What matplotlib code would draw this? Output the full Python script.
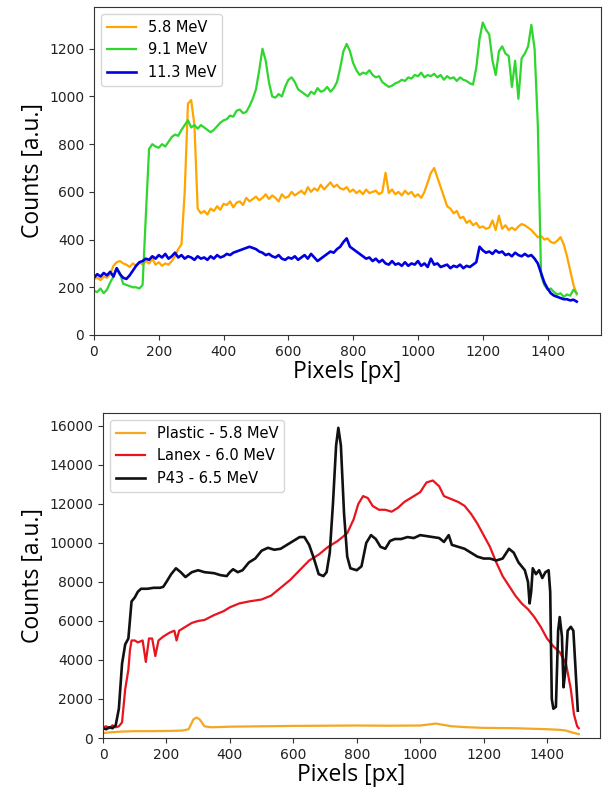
import numpy as np
import matplotlib
matplotlib.use("Agg")
import matplotlib.pyplot as plt

# ---------------- top panel data ----------------
x_top = list(range(0, 1500, 10))
top_58 = [235, 240, 230, 245, 240, 255, 290, 305, 310, 300, 295, 285, 300, 290, 305, 295, 310, 300, 320, 295,
          305, 290, 300, 295, 310, 330, 360, 380, 600, 970, 985, 880, 530, 510, 520, 505, 530, 520, 540, 525,
          550, 545, 560, 535, 555, 560, 545, 575, 560, 570, 580, 565, 575, 590, 570, 585, 575, 560, 590, 575,
          580, 600, 585, 595, 605, 590, 620, 600, 615, 605, 630, 610, 625, 640, 620, 630, 615, 610, 620, 600,
          610, 595, 605, 590, 610, 595, 600, 605, 590, 600, 680, 595, 610, 590, 600, 585, 605, 590, 600, 580,
          590, 575, 600, 640, 680, 700, 660, 620, 580, 540, 530, 510, 520, 490, 495, 470, 480, 460, 470, 450,
          455, 445, 450, 480, 440, 500, 445, 460, 440, 450, 440, 455, 465, 460, 450, 440, 425, 410, 415, 400,
          405, 390, 385, 395, 410, 380, 330, 270, 210, 170]
top_91 = [185, 180, 195, 175, 190, 220, 245, 280, 260, 215, 210, 205, 200, 200, 195, 210, 500, 780, 800, 790,
          785, 800, 790, 810, 830, 840, 835, 860, 880, 900, 870, 880, 865, 880, 870, 860, 850, 860, 875, 890,
          900, 905, 920, 915, 940, 945, 930, 935, 960, 990, 1030, 1110, 1200, 1150, 1060, 1000, 995, 1010, 1000, 1040,
          1070, 1080, 1060, 1030, 1020, 1010, 1000, 1020, 1010, 1035, 1020, 1025, 1040, 1020, 1035, 1060, 1120, 1190, 1220, 1190,
          1140, 1110, 1090, 1100, 1095, 1110, 1090, 1080, 1085, 1060, 1050, 1040, 1045, 1055, 1060, 1070, 1065, 1080, 1075, 1090,
          1085, 1100, 1080, 1090, 1085, 1095, 1080, 1090, 1070, 1085, 1075, 1080, 1065, 1080, 1070, 1065, 1055, 1050, 1120, 1240,
          1310, 1280, 1260, 1150, 1090, 1190, 1210, 1180, 1170, 1040, 1150, 990, 1160, 1180, 1210, 1300, 1200, 880, 250, 210,
          190, 195, 180, 170, 175, 160, 170, 165, 190, 175]
top_113 = [240, 255, 245, 260, 250, 265, 245, 280, 255, 240, 235, 250, 270, 290, 305, 310, 320, 315, 330, 320,
           335, 325, 340, 320, 330, 345, 325, 335, 320, 330, 325, 315, 330, 320, 325, 315, 330, 320, 335, 325,
           330, 340, 335, 345, 350, 355, 360, 365, 370, 365, 360, 350, 345, 335, 340, 330, 325, 335, 320, 315,
           325, 320, 330, 315, 325, 335, 320, 340, 325, 310, 320, 330, 340, 350, 345, 360, 370, 390, 405, 370,
           360, 350, 340, 330, 320, 325, 310, 320, 305, 315, 300, 295, 310, 295, 300, 290, 305, 290, 300, 295,
           310, 290, 300, 285, 320, 295, 300, 285, 290, 295, 280, 290, 285, 295, 280, 290, 285, 295, 305, 370,
           355, 345, 350, 340, 355, 345, 350, 335, 340, 330, 345, 335, 330, 340, 330, 335, 320, 300, 260, 220,
           195, 175, 165, 160, 155, 150, 150, 145, 148, 140]
top_labels = ["5.8 MeV", "9.1 MeV", "11.3 MeV"]

# ---------------- bottom panel data ----------------
x_p43 = [0, 10, 20, 30, 40, 50, 60, 70, 80, 90, 100, 110, 120, 140, 160, 180, 190, 200, 215, 230, 245, 260, 280, 300,
         320, 350, 370, 390, 400, 410, 425, 440, 460, 480, 500, 520, 540, 560, 580, 600, 620, 635, 650, 665, 680, 695,
         705, 715, 725, 735, 742, 750, 760, 770, 780, 800, 815, 830, 845, 860, 875, 890, 905, 920, 940, 960, 980, 1000,
         1020, 1040, 1060, 1075, 1090, 1100, 1120, 1140, 1160, 1180, 1200, 1220, 1240, 1260, 1280, 1295, 1310, 1330,
         1340, 1345, 1350, 1355, 1365, 1375, 1385, 1395, 1405, 1410, 1415, 1420, 1428, 1435, 1440, 1447, 1452, 1458,
         1465, 1475, 1483, 1490, 1497]
y_p43 = [500, 450, 550, 500, 650, 1500, 3800, 4800, 5100, 7000, 7200, 7500, 7650, 7650, 7700, 7700, 7750, 8000, 8400,
         8700, 8500, 8250, 8500, 8600, 8500, 8450, 8350, 8300, 8500, 8650, 8500, 8600, 9000, 9200, 9600, 9750, 9650,
         9700, 9900, 10100, 10300, 10300, 9900, 9200, 8400, 8300, 8500, 9500, 12000, 15000, 15900, 15000, 11500, 9300,
         8700, 8600, 8800, 10000, 10400, 10200, 9800, 9700, 10100, 10200, 10200, 10300, 10250, 10400, 10350, 10300,
         10250, 10050, 10400, 9900, 9800, 9700, 9500, 9300, 9200, 9200, 9100, 9200, 9700, 9500, 9000, 8600, 8000,
         6900, 7500, 8700, 8400, 8600, 8200, 8500, 8600, 7500, 2000, 1500, 1600, 5500, 6200, 5200, 2600, 3500, 5500,
         5700, 5500, 3500, 1400]
x_lanex = [0, 10, 20, 30, 40, 50, 60, 70, 80, 85, 90, 100, 110, 125, 135, 145, 155, 165, 175, 190, 210, 225, 232, 240,
           260, 280, 300, 320, 350, 380, 400, 430, 460, 500, 530, 560, 590, 620, 650, 680, 710, 740, 770, 790, 805,
           820, 835, 850, 870, 890, 910, 930, 950, 980, 1000, 1020, 1040, 1060, 1075, 1090, 1120, 1140, 1160, 1180,
           1200, 1220, 1240, 1260, 1280, 1300, 1320, 1340, 1360, 1380, 1400, 1420, 1440, 1460, 1475, 1485, 1495, 1500]
y_lanex = [550, 600, 500, 650, 550, 600, 800, 2500, 3500, 4500, 5000, 5000, 4900, 5000, 3900, 5100, 5100, 4200, 5000,
           5200, 5400, 5500, 5000, 5500, 5700, 5900, 6000, 6050, 6300, 6500, 6700, 6900, 7000, 7100, 7300, 7700, 8100,
           8600, 9100, 9400, 9800, 10100, 10500, 11200, 12000, 12400, 12300, 11900, 11700, 11700, 11600, 11800, 12100,
           12400, 12600, 13100, 13200, 12900, 12400, 12300, 12100, 11900, 11500, 11000, 10400, 9800, 9000, 8300, 7800,
           7300, 6900, 6600, 6200, 5700, 5100, 4700, 4400, 3800, 2500, 1200, 600, 500]
x_plastic = [0, 30, 60, 100, 150, 200, 250, 270, 285, 295, 305, 320, 340, 400, 500, 600, 700, 800, 900, 1000, 1030,
             1050, 1070, 1100, 1150, 1200, 1300, 1400, 1440, 1460, 1480, 1500]
y_plastic = [250, 300, 330, 350, 350, 360, 380, 450, 950, 1050, 950, 600, 550, 580, 600, 620, 630, 640, 630, 640, 700,
             740, 680, 600, 550, 520, 500, 450, 420, 380, 280, 200]
bottom_labels = ["Plastic - 5.8 MeV", "Lanex - 6.0 MeV", "P43 - 6.5 MeV"]

x_ticks = [0, 200, 400, 600, 800, 1000, 1200, 1400]
top_yticks = [0, 200, 400, 600, 800, 1000, 1200]
bottom_yticks = [0, 2000, 4000, 6000, 8000, 10000, 12000, 14000, 16000]

W, H = 605, 794
fig = plt.figure(figsize=(W / 100, H / 100), dpi=100)

def axes_px(l, t, r, b):
    return fig.add_axes([l / W, 1 - b / H, (r - l) / W, (b - t) / H])

label_font = dict(family=["Open Sans", "DejaVu Sans"], fontsize=16.5)

ax1 = axes_px(94, 7, 601, 335)
ax1.plot(x_top, top_58, color="#FFA500", lw=1.6, label=top_labels[0])
ax1.plot(x_top, top_91, color="#2ED62E", lw=1.6, label=top_labels[1])
ax1.plot(x_top, top_113, color="#0000E0", lw=1.9, label=top_labels[2])
ax1.set_xlim(0, 1565)
ax1.set_ylim(0, 1375)
ax1.set_xticks(x_ticks)
ax1.set_yticks(top_yticks)
ax1.set_xlabel("Pixels [px]", **label_font, labelpad=1)
ax1.set_ylabel("Counts [a.u.]", **label_font, labelpad=3)
ax1.legend(loc="upper left", fontsize=10.5)

ax2 = axes_px(103, 413, 600, 738)
ax2.plot(x_plastic, y_plastic, color="#F5A623", lw=1.6, label=bottom_labels[0])
ax2.plot(x_lanex, y_lanex, color="#E8141E", lw=1.6, label=bottom_labels[1])
ax2.plot(x_p43, y_p43, color="#111111", lw=1.9, label=bottom_labels[2])
ax2.set_xlim(0, 1567)
ax2.set_ylim(0, 16660)
ax2.set_xticks(x_ticks)
ax2.set_yticks(bottom_yticks)
ax2.set_xlabel("Pixels [px]", **label_font, labelpad=1)
ax2.set_ylabel("Counts [a.u.]", **label_font, labelpad=3)
ax2.legend(loc="upper left", fontsize=10.5)

for ax in (ax1, ax2):
    ax.tick_params(labelsize=10, length=3.5, color="#333333", labelcolor="#222222")
    for s in ax.spines.values():
        s.set_color("#333333")

fig.savefig("out.png", dpi=100)
